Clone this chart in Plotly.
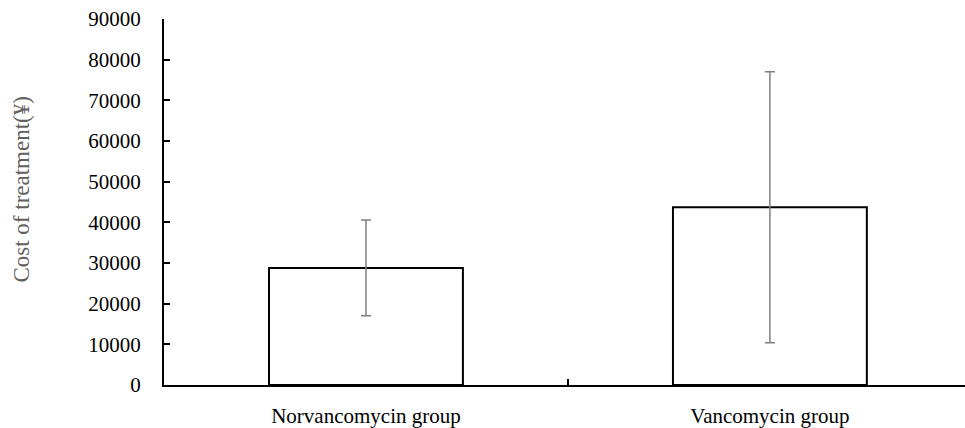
import plotly.graph_objects as go

categories = ["Norvancomycin group", "Vancomycin group"]
means = [28800, 43700]
errors = [11800, 33300]
y_ticks = [0, 10000, 20000, 30000, 40000, 50000, 60000, 70000, 80000, 90000]
y_title = "Cost of treatment(¥)"

fig = go.Figure()
fig.add_trace(go.Bar(
    x=categories,
    y=means,
    width=0.48,
    marker=dict(color="white", line=dict(color="black", width=2)),
    error_y=dict(type="data", array=errors, visible=True,
                 color="#7f7f7f", thickness=1.5, width=5),
    showlegend=False,
))

font_family = "Liberation Serif, Times New Roman, serif"
fig.update_layout(
    width=965, height=428,
    margin=dict(l=164, r=0, t=19, b=40),
    paper_bgcolor="white", plot_bgcolor="white",
    font=dict(family=font_family, color="black", size=21),
    xaxis=dict(
        type="category",
        range=[-0.5, 1.483],
        showline=True, linecolor="black", linewidth=2,
        ticks="inside", tickson="boundaries", ticklen=6, tickwidth=2, tickcolor="black",
        showgrid=False, zeroline=False,
        ticklabelstandoff=11,
        tickfont=dict(family=font_family, size=21, color="black"),
    ),
    yaxis=dict(
        range=[0, 90000],
        tickvals=y_ticks,
        ticktext=[str(v) for v in y_ticks],
        showline=True, linecolor="black", linewidth=2,
        ticks="inside", ticklen=6, tickwidth=1.5, tickcolor="black",
        showgrid=False, zeroline=False,
        ticklabelstandoff=17,
        tickfont=dict(family=font_family, size=21, color="black"),
    ),
    annotations=[dict(
        text=y_title, textangle=-90, showarrow=False,
        xref="paper", yref="paper", x=-0.1773, y=0.5366,
        xanchor="center", yanchor="middle",
        font=dict(family=font_family, size=23, color="#606060"),
    )],
)

fig.write_html("out.html",
               config={"displayModeBar": False},
               post_script="document.body.style.margin='0';document.body.style.padding='0';")
